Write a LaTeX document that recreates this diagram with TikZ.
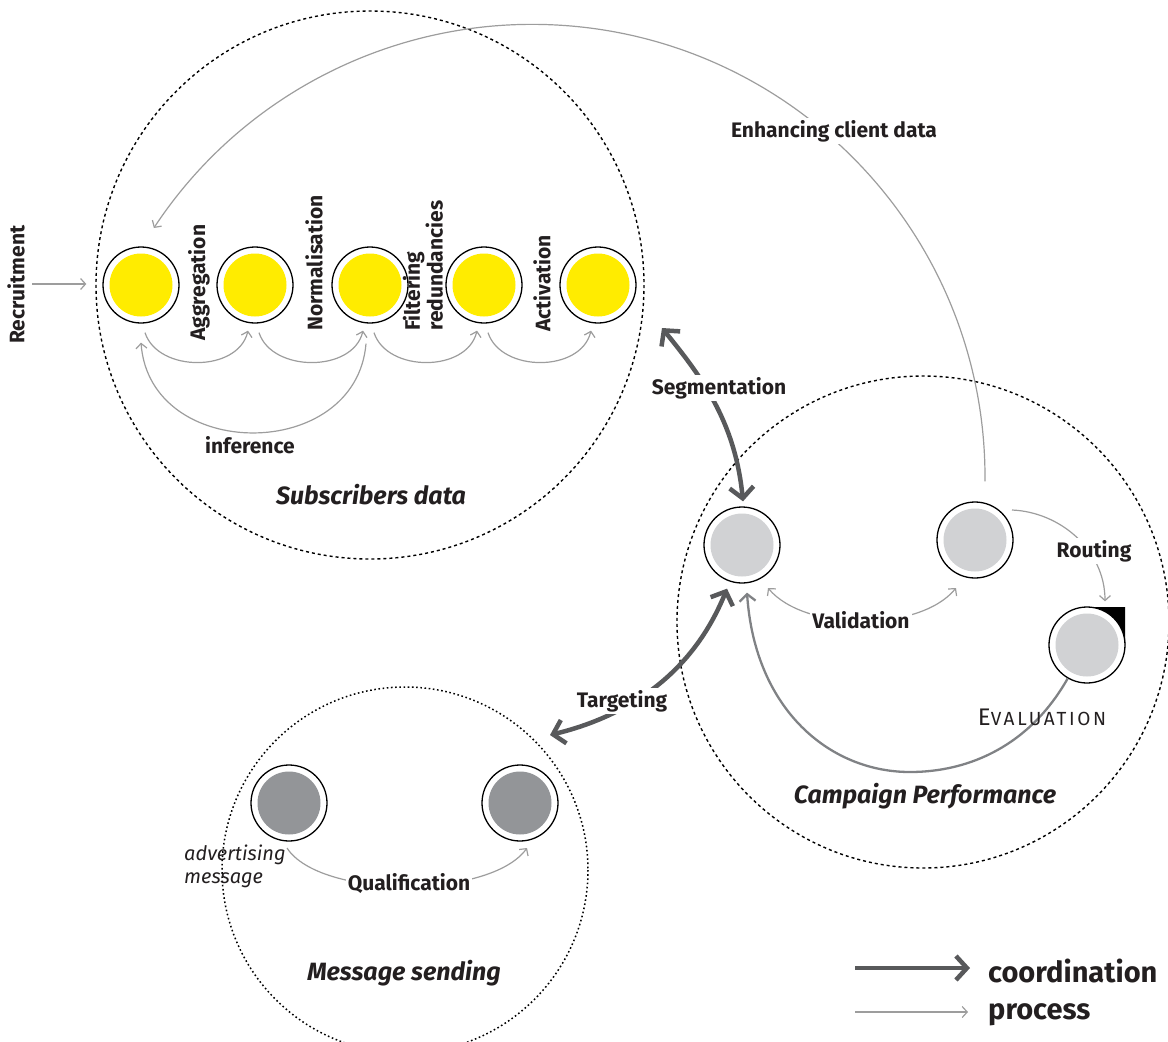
\documentclass[tikz,border=0pt]{standalone}
\usepackage{fontspec}
\setmainfont{Fira Sans}
\usetikzlibrary{arrows.meta,calc}
\definecolor{cyel}{HTML}{FFEC00}
\definecolor{clight}{HTML}{D1D2D4}
\definecolor{cmid}{HTML}{939598}
\definecolor{cdark}{HTML}{58595B}
\definecolor{cproc}{HTML}{9D9D9D}
\definecolor{cfeed}{HTML}{808285}
\definecolor{ctext}{HTML}{231F20}
\begin{document}
\begin{tikzpicture}[x=1pt,y=-1pt,
  lab/.style={font=\fontsize{21}{17}\selectfont\bfseries, text=ctext, inner sep=1pt},
  labw/.style={lab, fill=white, inner sep=2pt},
  title/.style={font=\fontsize{25}{28}\selectfont\bfseries\itshape, text=ctext},
  zone/.style={draw=black, line width=1.4pt, dash pattern=on 3pt off 3pt},
  zonedot/.style={draw=black, line width=1.5pt, dash pattern=on 1.6pt off 2.6pt},
  bub/.style={circle, draw=black, line width=1.3pt, fill=white, minimum size=76pt, inner sep=0pt,
     path picture={\fill[#1] (path picture bounding box.center) circle[radius=31.5];}},
  proc/.style={draw=cproc, line width=1.2pt, -{Straight Barb[length=5pt,width=11pt]}},
  procb/.style={draw=cproc, line width=1.2pt, {Straight Barb[length=5pt,width=11pt]}-{Straight Barb[length=5pt,width=11pt]}},
  feed/.style={draw=cfeed, line width=2.3pt, -{Straight Barb[length=7pt,width=16pt]}},
  coord/.style={draw=cdark, line width=4.5pt, {Straight Barb[length=11pt,width=24pt]}-{Straight Barb[length=11pt,width=24pt]}},
  coordone/.style={draw=cdark, line width=4.5pt, -{Straight Barb[length=11pt,width=24pt]}},
]
\useasboundingbox (0,0) rectangle (1168,1042);
% zones
\draw[zone] (370,285) circle[radius=274];
\draw[zone] (923,622) circle[radius=246];
\draw[zonedot] (405,870) circle[radius=183];
% black corner of evaluation node
\fill[black] (1087,607) -| (1125,645) -- cycle;
% nodes
\node[bub=cyel] (y1) at (141,285) {};
\node[bub=cyel] (y2) at (255,285) {};
\node[bub=cyel] (y3) at (370,285) {};
\node[bub=cyel] (y4) at (484,285) {};
\node[bub=cyel] (y5) at (598,285) {};
\node[bub=clight] (cA) at (742,545) {};
\node[bub=clight] (cB) at (975,540) {};
\node[bub=clight] (cC) at (1087,645) {};
\node[bub=cmid] (m1) at (289,803) {};
\node[bub=cmid] (m2) at (520,803) {};
% process connectors
\coordinate (rS) at (32,284);
\draw[proc] (rS) -- ($(y1.west)+(-16,-1)$);
\foreach \a/\b in {y1/y2,y2/y3,y3/y4,y4/y5}{
  \draw[proc] ($(\a.south)+(4,9)$) .. controls ($(\a.south)+(17,49)$) and ($(\b.south)+(-17,49)$) .. ($(\b.south)+(-7,7)$);
}
\draw[proc] ($(y3.south)+(-4,20)$) .. controls ($(y3.south)+(-14,139)$) and ($(y1.south)+(9,139)$) .. ($(y1.south)+(0,19)$);
\coordinate (eS) at ($(cB.north)+(10,-20)$);
\draw[proc] (eS) -- ++(0,-4) arc[start angle=0,end angle=-146.6,radius=453];
\draw[procb] ($(cA.center)+(26,43)$) .. controls (805,632) and (920,632) .. ($(cB.center)+(-19,48)$);
\draw[proc] ($(cB.center)+(37,-30)$) .. controls (1060,512) and (1105,550) .. ($(cC.north)+(18,-5)$);
\draw[proc] ($(m1.center)+(-2,45)$) .. controls (320,899) and (490,899) .. ($(m2.center)+(7,45)$);
% feedback
\coordinate (fB) at (910,772);
\draw[feed] (cC.240) .. controls (1030,745) and (970,772) .. (fB) .. controls (830,772) and (755,710) .. ($(cA.south)+(5,9)$);
% coordination
\coordinate (sT) at (662,328);
\draw[coord] (sT) .. controls (700,375) and (735,420) .. ($(cA.north)+(1,-5)$);
\coordinate (tT) at (550,735);
\draw[coord] (tT) .. controls (620,718) and (690,680) .. ($(cA.south)+(-15,5)$);
% labels
\node[labw] (tEnh) at (834,131) {Enhancing client data};
\node[labw] (tSeg) at (719,388) {Segmentation};
\node[labw] (tTar) at (622,701) {Targeting};
\node[labw] (tVal) at (861,620) {Validation};
\node[labw] (tRou) at (1094,551) {Routing};
\node[labw] (tQua) at (409,884) {Qualification};
\node[lab] (tInf) at (250,445) {inference};
\node[lab, rotate=90, anchor=west] (tRec) at (16,345) {Recruitment};
\node[lab, rotate=90, anchor=west] (tAgg) at (199,342) {Aggregation};
\node[lab, rotate=90, anchor=west] (tNor) at (314,332) {Normalisation};
\node[lab, rotate=90, anchor=west, align=left] (tFil) at (423,332) {Filtering\\redundancies};
\node[lab, rotate=90, anchor=west] (tAct) at (542,333) {Activation};
\node[title] (tSub) at (371,495) {Subscribers data};
\node[title] (tCam) at (925,796) {Campaign Performance};
\node[title] (tMes) at (404,973) {Message sending};
\node[text=ctext, font=\fontsize{19}{20}\selectfont\addfontfeatures{LetterSpace=14}, anchor=base] (tEva) at (1042,725) {{\fontsize{24}{24}\selectfont E}VALUATION};
\node[text=ctext, font=\fontsize{20}{23}\selectfont\itshape, align=left, anchor=west, inner sep=0pt] (tAdv) at (184,866) {advertising\\message};
% legend
\coordinate (k1a) at (855,968);
\coordinate (k1b) at (970,968);
\draw[coordone] (k1a) -- (k1b);
\coordinate (k2a) at (855,1012);
\coordinate (k2b) at (968,1012);
\draw[proc] (k2a) -- (k2b);
\node[anchor=base west, text=ctext, font=\fontsize{29}{30}\selectfont\bfseries, inner sep=0pt] (kC) at (988,982) {coordination};
\node[anchor=base west, text=ctext, font=\fontsize{29}{30}\selectfont\bfseries, inner sep=0pt] (kP) at (988,1019) {process};
\end{tikzpicture}
\end{document}
